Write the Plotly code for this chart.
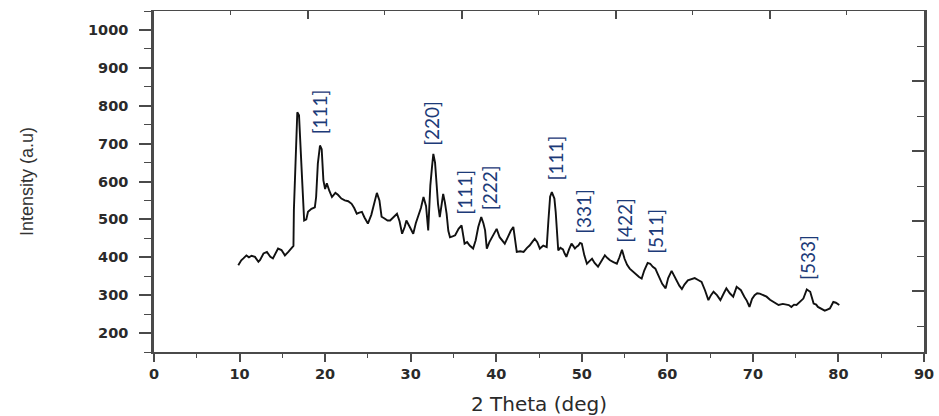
import plotly.graph_objects as go

# ---- data ----
two_theta = [9.85,10.2,10.45,10.8,11.1,11.4,11.8,12.0,12.2,12.4,12.8,13.2,13.6,13.9,14.2,14.5,14.9,15.3,15.7,16.1,16.3,16.35,16.55,16.75,16.95,17.1,17.3,17.55,17.8,18.0,18.4,18.8,18.95,19.15,19.4,19.6,19.8,20.0,20.2,20.5,20.8,21.2,21.5,21.9,22.3,22.7,23.1,23.4,23.7,24.0,24.3,24.6,25.0,25.4,25.8,26.05,26.35,26.6,26.9,27.3,27.6,28.0,28.4,28.7,29.0,29.3,29.5,29.9,30.3,30.6,30.9,31.2,31.5,31.8,32.05,32.3,32.5,32.65,32.85,33.0,33.2,33.4,33.6,33.8,34.0,34.2,34.4,34.6,34.9,35.2,35.6,35.95,36.3,36.6,36.9,37.3,37.6,37.9,38.25,38.5,38.7,38.9,39.2,39.5,39.8,40.05,40.4,40.7,41.0,41.4,41.7,42.0,42.2,42.4,42.8,43.2,43.6,43.9,44.2,44.5,44.8,45.1,45.5,45.9,46.1,46.3,46.5,46.8,46.95,47.1,47.25,47.5,47.8,48.0,48.2,48.5,48.8,49.0,49.2,49.4,49.6,49.8,50.0,50.3,50.6,50.9,51.2,51.5,51.9,52.3,52.7,53.0,53.3,53.7,54.1,54.4,54.7,55.0,55.3,55.6,56.0,56.4,56.7,57.0,57.3,57.7,58.0,58.3,58.6,58.9,59.1,59.4,59.8,60.1,60.5,60.8,61.1,61.4,61.7,62.0,62.4,62.8,63.2,63.6,64.0,64.4,64.8,65.1,65.4,65.8,66.2,66.6,66.9,67.3,67.7,68.1,68.4,68.6,69.0,69.3,69.6,69.9,70.2,70.5,70.8,71.2,71.6,72.0,72.4,72.7,73.0,73.5,73.9,74.2,74.5,74.8,75.1,75.5,75.9,76.3,76.7,77.1,77.4,77.6,78.0,78.4,78.7,79.0,79.4,79.7,80.1]
intensity = [379,392,397,405,400,404,401,395,388,393,410,414,401,397,410,423,419,405,414,423,430,524,664,783,775,690,611,497,500,520,528,532,559,647,695,685,603,580,595,575,559,570,565,555,550,548,541,530,515,518,520,505,489,512,545,570,550,507,503,497,497,505,515,495,462,480,497,480,462,490,510,530,559,535,471,590,640,673,650,600,540,506,540,567,545,515,470,453,455,458,475,484,436,440,431,423,445,480,506,490,471,423,440,453,465,475,453,445,436,455,470,480,450,414,416,414,425,431,440,449,440,423,431,427,497,560,572,555,520,455,418,425,421,410,401,420,436,430,423,428,431,438,436,405,383,390,396,385,375,390,405,398,392,387,383,400,420,396,380,370,362,353,348,344,365,385,383,375,370,355,344,330,318,345,364,350,335,325,316,328,339,342,345,340,335,313,287,300,309,300,287,305,318,305,296,322,315,313,296,285,269,290,300,305,304,300,296,288,282,278,274,277,276,274,269,275,274,283,291,315,309,278,275,269,265,259,262,265,282,280,274]

peak_labels = ["[111]", "[220]", "[111]", "[222]", "[111]", "[331]", "[422]", "[511]", "[533]"]
peak_x = [19.3, 32.45, 36.3, 39.3, 46.87, 50.26, 55.05, 58.67, 76.4]
peak_y = [783, 754, 572, 583, 661, 520, 499, 470, 400]

x_ticks = [0, 10, 20, 30, 40, 50, 60, 70, 80, 90]
y_ticks = [200, 300, 400, 500, 600, 700, 800, 900, 1000]

fig = go.Figure()
fig.add_trace(go.Scatter(x=two_theta, y=intensity, mode="lines",
                         line=dict(color="#111111", width=1.9),
                         showlegend=False, hoverinfo="skip"))
# mirrored frame axes (top / right) carry their own inward ticks
fig.add_trace(go.Scatter(x=[None], y=[None], xaxis="x2", yaxis="y2",
                         mode="lines", showlegend=False, hoverinfo="skip"))

for t, px, py in zip(peak_labels, peak_x, peak_y):
    fig.add_annotation(x=px, y=py, text=t, showarrow=False, textangle=-90,
                       font=dict(family="Lato, Noto Sans, sans-serif", size=19, color="#1c3a78"),
                       xanchor="center", yanchor="middle")

tickfont = dict(family="DejaVu Sans, sans-serif", size=14.5, color="#2a2a2a", weight="bold")
axis_col = "#4a4a4a"

fig.update_layout(
    width=939, height=416,
    margin=dict(l=154, r=15, t=11, b=64),
    paper_bgcolor="white", plot_bgcolor="white",
    xaxis=dict(range=[0, 90], tickvals=x_ticks, showgrid=False, zeroline=False,
               automargin=False,
               showline=True, linecolor=axis_col, linewidth=1.5,
               ticks="outside", ticklen=8, tickwidth=1.5, tickcolor=axis_col,
               minor=dict(dtick=5, tick0=0, ticks="outside", ticklen=4, tickwidth=1.3, tickcolor=axis_col),
               tickfont=tickfont,
               title=dict(text="2 Theta (deg)", standoff=25,
                          font=dict(family="DejaVu Sans, sans-serif", size=20, color="#2a2a2a"))),
    yaxis=dict(range=[150, 1050], tickvals=y_ticks, showgrid=False, zeroline=False,
               automargin=False,
               showline=True, linecolor=axis_col, linewidth=2.5,
               ticks="outside", ticklen=12, tickwidth=1.5, tickcolor=axis_col,
               minor=dict(dtick=50, tick0=0, ticks="outside", ticklen=7, tickwidth=1.3, tickcolor=axis_col),
               tickfont=tickfont, ticklabelstandoff=8,
               title=dict(text="Intensity (a.u)", standoff=50,
                          font=dict(family="Liberation Sans, Arial, sans-serif",
                                    size=18, color="#333333"))),
    xaxis2=dict(overlaying="x", side="top", anchor="y", range=[0, 5.003], automargin=False,
                tickvals=[1, 2, 3, 4], showticklabels=False, showgrid=False, zeroline=False,
                showline=True, linecolor=axis_col, linewidth=1.2,
                ticks="inside", ticklen=8, tickwidth=1.5, tickcolor=axis_col,
                minor=dict(tickvals=[0.5, 1.5, 2.5, 3.5, 4.5], ticks="inside", ticklen=4,
                           tickwidth=1.3, tickcolor=axis_col)),
    yaxis2=dict(overlaying="y", side="right", anchor="x", range=[-0.869, 4.003], automargin=False,
                tickvals=[0, 1, 2, 3], showticklabels=False, showgrid=False, zeroline=False,
                showline=True, linecolor=axis_col, linewidth=2.5,
                ticks="inside", ticklen=12, tickwidth=1.5, tickcolor=axis_col,
                minor=dict(tickvals=[-0.5, 0.5, 1.5, 2.5, 3.5], ticks="inside", ticklen=7,
                           tickwidth=1.3, tickcolor=axis_col)),
)

fig.write_html("out.html")
